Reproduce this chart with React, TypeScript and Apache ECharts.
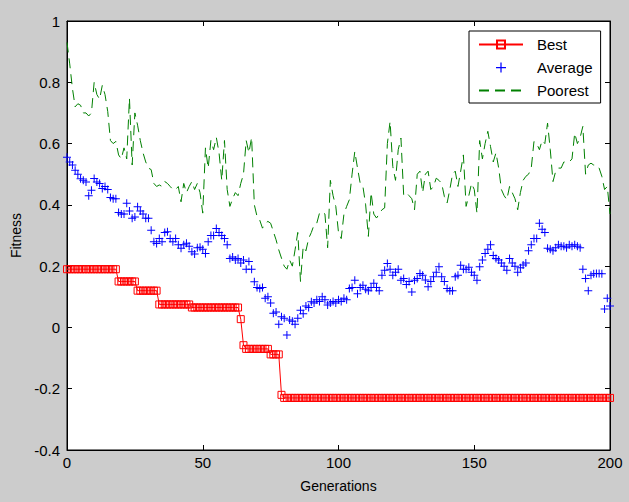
import React, { useEffect, useRef } from "react";
import * as echarts from "echarts";

const seriesNames = ["Best", "Average", "Poorest"];
const xAxisName = "Generations";
const yAxisName = "Fitness";

const bestValues = [
  0.19, 0.19, 0.19, 0.19, 0.19, 0.19, 0.19, 0.19, 0.19, 0.19,
  0.19, 0.19, 0.19, 0.19, 0.19, 0.19, 0.19, 0.19, 0.19, 0.15,
  0.15, 0.15, 0.15, 0.15, 0.15, 0.15, 0.12, 0.12, 0.12, 0.12,
  0.12, 0.12, 0.12, 0.12, 0.075, 0.075, 0.075, 0.075, 0.075, 0.075,
  0.075, 0.075, 0.075, 0.075, 0.075, 0.075, 0.065, 0.065, 0.065, 0.065,
  0.065, 0.065, 0.065, 0.065, 0.065, 0.065, 0.065, 0.065, 0.065, 0.065,
  0.065, 0.065, 0.065, 0.065, 0.027, -0.058, -0.07, -0.07, -0.07, -0.07,
  -0.07, -0.07, -0.07, -0.07, -0.07, -0.088, -0.088, -0.088, -0.088, -0.22,
  -0.23, -0.23, -0.23, -0.23, -0.23, -0.23, -0.23, -0.23, -0.23, -0.23,
  -0.23, -0.23, -0.23, -0.23, -0.23, -0.23, -0.23, -0.23, -0.23, -0.23,
  -0.23, -0.23, -0.23, -0.23, -0.23, -0.23, -0.23, -0.23, -0.23, -0.23,
  -0.23, -0.23, -0.23, -0.23, -0.23, -0.23, -0.23, -0.23, -0.23, -0.23,
  -0.23, -0.23, -0.23, -0.23, -0.23, -0.23, -0.23, -0.23, -0.23, -0.23,
  -0.23, -0.23, -0.23, -0.23, -0.23, -0.23, -0.23, -0.23, -0.23, -0.23,
  -0.23, -0.23, -0.23, -0.23, -0.23, -0.23, -0.23, -0.23, -0.23, -0.23,
  -0.23, -0.23, -0.23, -0.23, -0.23, -0.23, -0.23, -0.23, -0.23, -0.23,
  -0.23, -0.23, -0.23, -0.23, -0.23, -0.23, -0.23, -0.23, -0.23, -0.23,
  -0.23, -0.23, -0.23, -0.23, -0.23, -0.23, -0.23, -0.23, -0.23, -0.23,
  -0.23, -0.23, -0.23, -0.23, -0.23, -0.23, -0.23, -0.23, -0.23, -0.23,
  -0.23, -0.23, -0.23, -0.23, -0.23, -0.23, -0.23, -0.23, -0.23, -0.23,
  -0.23,
];

const averageValues = [
  0.555, 0.54, 0.53, 0.513, 0.5, 0.485, 0.48, 0.475, 0.43, 0.448,
  0.486, 0.475, 0.47, 0.453, 0.46, 0.45, 0.424, 0.42, 0.42, 0.375,
  0.37, 0.37, 0.405, 0.38, 0.356, 0.36, 0.394, 0.38, 0.37, 0.356,
  0.356, 0.317, 0.28, 0.274, 0.29, 0.28, 0.31, 0.312, 0.29, 0.28,
  0.29, 0.27, 0.258, 0.27, 0.275, 0.265, 0.247, 0.24, 0.26, 0.262,
  0.255, 0.241, 0.28, 0.3, 0.3, 0.323, 0.31, 0.3, 0.29, 0.27,
  0.225, 0.23, 0.22, 0.225, 0.21, 0.22, 0.19, 0.215, 0.19, 0.149,
  0.13, 0.127, 0.13, 0.095, 0.1, 0.08, 0.046, 0.05, 0.01, 0.035,
  0.03, -0.025, 0.024, 0.02, 0.01, 0.03, 0.056, 0.045, 0.07, 0.065,
  0.084, 0.08, 0.09, 0.085, 0.1, 0.09, 0.073, 0.08, 0.085, 0.08,
  0.09, 0.085, 0.095, 0.09, 0.127, 0.13, 0.154, 0.11, 0.13, 0.138,
  0.125, 0.12, 0.13, 0.144, 0.13, 0.12, 0.17, 0.187, 0.209, 0.19,
  0.17, 0.18, 0.19, 0.154, 0.16, 0.14, 0.15, 0.116, 0.154, 0.16,
  0.176, 0.17, 0.155, 0.133, 0.15, 0.165, 0.18, 0.198, 0.165, 0.15,
  0.127, 0.12, 0.12, 0.165, 0.17, 0.203, 0.19, 0.19, 0.196, 0.18,
  0.17, 0.154, 0.198, 0.22, 0.241, 0.255, 0.27, 0.235, 0.225, 0.22,
  0.21, 0.2, 0.187, 0.225, 0.21, 0.2, 0.18, 0.195, 0.204, 0.21,
  0.25, 0.27, 0.29, 0.29, 0.34, 0.32, 0.31, 0.258, 0.255, 0.25,
  0.26, 0.27, 0.265, 0.265, 0.26, 0.27, 0.265, 0.27, 0.265, 0.26,
  0.19, 0.16, 0.12, 0.17, 0.175, 0.176, 0.176, 0.175, 0.06, 0.095,
  0.07,
];

const poorestValues = [
  0.93, 0.86, 0.78, 0.72, 0.73, 0.725, 0.7, 0.7, 0.69, 0.7,
  0.8, 0.76, 0.745, 0.79, 0.76, 0.705, 0.61, 0.6, 0.607, 0.563,
  0.55, 0.586, 0.55, 0.748, 0.53, 0.7, 0.66, 0.61, 0.57, 0.54,
  0.52, 0.515, 0.47, 0.46, 0.465, 0.46, 0.476, 0.47, 0.46, 0.45,
  0.45, 0.46, 0.41, 0.47, 0.44, 0.46, 0.476, 0.45, 0.47, 0.44,
  0.373, 0.586, 0.52, 0.61, 0.58, 0.62, 0.57, 0.48, 0.61, 0.45,
  0.395, 0.42, 0.44, 0.43, 0.47, 0.5, 0.61, 0.57, 0.62, 0.4,
  0.362, 0.35, 0.324, 0.34, 0.346, 0.34, 0.313, 0.286, 0.253, 0.226,
  0.2, 0.19, 0.22, 0.2, 0.253, 0.31, 0.15, 0.264, 0.25, 0.29,
  0.31, 0.335, 0.34, 0.373, 0.378, 0.37, 0.26, 0.48, 0.43, 0.395,
  0.31, 0.29, 0.37, 0.395, 0.417, 0.5, 0.574, 0.52, 0.47, 0.46,
  0.4, 0.297, 0.44, 0.37, 0.357, 0.37, 0.384, 0.39, 0.6, 0.672,
  0.525, 0.48, 0.58, 0.618, 0.433, 0.44, 0.43, 0.42, 0.384, 0.5,
  0.51, 0.44, 0.5, 0.51, 0.45, 0.46, 0.487, 0.48, 0.47, 0.427,
  0.406, 0.45, 0.5, 0.51, 0.46, 0.51, 0.563, 0.395, 0.43, 0.47,
  0.45, 0.373, 0.61, 0.55, 0.6, 0.64, 0.59, 0.54, 0.57, 0.52,
  0.45, 0.43, 0.417, 0.46, 0.44, 0.42, 0.384, 0.44, 0.48, 0.493,
  0.5, 0.52, 0.607, 0.6, 0.58, 0.61, 0.6, 0.667, 0.58, 0.476,
  0.51, 0.52, 0.52, 0.54, 0.54, 0.54, 0.55, 0.634, 0.6, 0.62,
  0.656, 0.5, 0.53, 0.536, 0.53, 0.53, 0.52, 0.493, 0.45, 0.46,
  0.37,
];

const FONT = "'Liberation Sans', Arial, sans-serif";
const PLUS = "path://M3.5,0h1v3.5h3.5v1h-3.5v3.5h-1v-3.5h-3.5v-1h3.5z";

const toPairs = (vals: number[]) => vals.map((v, i) => [i, v]);

export default function App() {
  const ref = useRef<HTMLDivElement>(null);
  useEffect(() => {
    if (!ref.current) return;
    const chart = echarts.init(ref.current, null, { renderer: "svg" });
    const axisCommon = {
      axisLine: { show: true, onZero: false, lineStyle: { color: "#000", width: 1 } },
      axisTick: { show: true, inside: true, length: 5, lineStyle: { color: "#000" } },
      splitLine: { show: false },
    };
    chart.setOption({
      animation: false,
      backgroundColor: "#cccccc",
      textStyle: { fontFamily: FONT },
      grid: {
        left: 67,
        right: 19,
        top: 21,
        bottom: 52,
        show: true,
        backgroundColor: "#ffffff",
        borderColor: "#000",
        borderWidth: 1,
      },
      legend: {
        orient: "vertical",
        left: 469,
        top: 31,
        padding: [6, 8, 5, 9],
        itemWidth: 44,
        itemHeight: 10,
        itemGap: 8,
        backgroundColor: "#ffffff",
        borderColor: "#000",
        borderWidth: 1,
        borderRadius: 0,
        textStyle: { fontFamily: FONT, fontSize: 15, color: "#000", padding: [0, 0, 0, 9] },
        data: [
          { name: seriesNames[0] },
          { name: seriesNames[1] },
          { name: seriesNames[2], itemStyle: { opacity: 0 } },
        ],
      },
      xAxis: [
        {
          type: "value",
          min: 0,
          max: 200,
          interval: 50,
          position: "bottom",
          name: xAxisName,
          nameLocation: "middle",
          nameGap: 29,
          nameTextStyle: { fontFamily: FONT, fontSize: 14, color: "#000" },
          axisLabel: { fontFamily: FONT, fontSize: 15, color: "#000", margin: 5 },
          ...axisCommon,
        },
        {
          type: "value",
          min: 0,
          max: 200,
          interval: 50,
          position: "top",
          axisLabel: { show: false },
          ...axisCommon,
        },
      ],
      yAxis: [
        {
          type: "value",
          min: -0.4,
          max: 1,
          interval: 0.2,
          position: "left",
          name: yAxisName,
          nameLocation: "middle",
          nameGap: 43,
          nameTextStyle: { fontFamily: FONT, fontSize: 14, color: "#000" },
          axisLabel: {
            fontFamily: FONT,
            fontSize: 15,
            color: "#000",
            margin: 7,
            formatter: (v: number) => String(parseFloat(v.toFixed(1))),
          },
          ...axisCommon,
        },
        {
          type: "value",
          min: -0.4,
          max: 1,
          interval: 0.2,
          position: "right",
          axisLabel: { show: false },
          ...axisCommon,
        },
      ],
      series: [
        {
          name: seriesNames[0],
          type: "line",
          xAxisIndex: 0,
          yAxisIndex: 0,
          data: toPairs(bestValues),
          symbol: "rect",
          symbolSize: 7,
          showAllSymbol: true,
          lineStyle: { color: "#ff0000", width: 1 },
          itemStyle: { color: "rgba(255,255,255,0)", borderColor: "#ff0000", borderWidth: 1 },
          z: 3,
        },
        {
          name: seriesNames[1],
          type: "scatter",
          xAxisIndex: 0,
          yAxisIndex: 0,
          data: toPairs(averageValues),
          symbol: PLUS,
          symbolSize: 8,
          itemStyle: { color: "#0000ff", opacity: 1 },
          z: 4,
        },
        {
          name: seriesNames[2],
          type: "line",
          xAxisIndex: 0,
          yAxisIndex: 0,
          data: toPairs(poorestValues),
          symbol: "none",
          showSymbol: false,
          lineStyle: { color: "#008000", width: 1, type: [10, 6] },
          itemStyle: { color: "#008000" },
          z: 2,
        },
      ],
    });
    return () => chart.dispose();
  }, []);
  return (
    <div
      ref={ref}
      style={{ position: "fixed", left: 0, top: 0, width: 629, height: 502 }}
    />
  );
}
